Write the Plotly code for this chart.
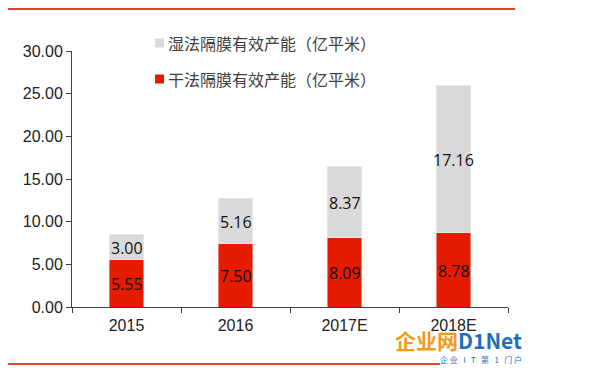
import plotly.graph_objects as go

categories = ["2015", "2016", "2017E", "2018E"]
dry_values = [5.55, 7.50, 8.09, 8.78]
wet_values = [3.00, 5.16, 8.37, 17.16]
dry_name = "干法隔膜有效产能（亿平米）"
wet_name = "湿法隔膜有效产能（亿平米）"
y_ticks = [0, 5, 10, 15, 20, 25, 30]

RED = "#E51B00"
GREY = "#D9D9D9"
FONT = "Liberation Sans, Arial, sans-serif"
LABEL_FONT = dict(color="#111111", size=16, family="Open Sans, sans-serif")
CJK = "Noto Sans CJK SC, sans-serif"

# the page places the figure 8px in from the top-left corner
OFF = 8
W, H = 600 - OFF, 368 - OFF
ML, MR, MT, MB = 72 - OFF, 92, 51 - OFF, 61
PW, PH = W - ML - MR, H - MT - MB


def px(x):
    return (x - OFF - ML) / PW


def py(y):
    return (H - MB - (y - OFF)) / PH


fig = go.Figure()
fig.add_trace(go.Bar(
    x=categories, y=dry_values, name=dry_name,
    marker=dict(color=RED, line=dict(color="#F08070", width=1)),
    width=0.31, showlegend=False,
))
fig.add_trace(go.Bar(
    x=categories, y=wet_values, name=wet_name,
    marker=dict(color=GREY, line=dict(color="#E6E6E6", width=1)),
    width=0.31, showlegend=False,
))

# data labels centred in each segment (x given as category index)
for i, (d, w) in enumerate(zip(dry_values, wet_values)):
    fig.add_annotation(x=i, y=d / 2, text=f"{d:.2f}", showarrow=False,
                       font=LABEL_FONT, yshift=-1)
    fig.add_annotation(x=i, y=d + w / 2, text=f"{w:.2f}", showarrow=False,
                       font=LABEL_FONT, yshift=-1)

fig.update_layout(
    barmode="stack",
    width=W, height=H,
    margin=dict(l=ML, r=MR, t=MT, b=MB, autoexpand=False),
    paper_bgcolor="white", plot_bgcolor="white",
    showlegend=False,
)
fig.update_yaxes(
    range=[0, 30], tickvals=y_ticks, ticktext=[f"{v:.2f}" for v in y_ticks],
    showgrid=False, zeroline=False, showline=True, linecolor="#404040", linewidth=1,
    ticks="outside", ticklen=5, tickcolor="#404040",
    tickfont=dict(size=16, color="#222222", family=FONT),
)
fig.update_xaxes(
    type="category", categoryorder="array", categoryarray=categories,
    range=[-0.5, len(categories) - 0.5],
    showgrid=False, showline=True, linecolor="#404040", linewidth=1,
    ticks="outside", ticklen=5, tickcolor="#404040", tickson="boundaries",
    ticklabelstandoff=4,
    tickfont=dict(size=16, color="#222222", family=FONT),
)

# manual legend (wet on top, dry below)
for (name, color, yc) in [(wet_name, GREY, 43), (dry_name, RED, 79)]:
    fig.add_shape(type="rect", xref="paper", yref="paper",
                  x0=px(155), x1=px(164), y0=py(yc - 4.5), y1=py(yc + 4.5),
                  fillcolor=color, line=dict(width=0))
    fig.add_annotation(xref="paper", yref="paper", x=px(166), y=py(yc),
                       xanchor="left", yanchor="middle", text=name, showarrow=False,
                       font=dict(size=16, color="#404040", family=CJK))

# decorative red rules at top and bottom
fig.add_shape(type="line", xref="paper", yref="paper", x0=px(OFF), x1=px(515),
              y0=py(OFF + 1), y1=py(OFF + 1), line=dict(color="#E8402E", width=2))
fig.add_shape(type="line", xref="paper", yref="paper", x0=px(OFF), x1=px(440),
              y0=py(364), y1=py(364), line=dict(color="#E8402E", width=2))

# watermark
fig.add_annotation(xref="paper", yref="paper", x=px(524), y=py(340), xanchor="right", yanchor="middle",
                   text="<b><span style='color:#F39A1E'>企业网</span><span style='color:#1F6FC0'>D1Net</span></b>",
                   showarrow=False, font=dict(size=21, family=CJK))
fig.add_annotation(xref="paper", yref="paper", x=px(524), y=py(359), xanchor="right", yanchor="middle",
                   text="企 业   I   T   第   1   门 户",
                   showarrow=False, font=dict(size=8, color="#1F6FC0", family=CJK))

fig.write_html("out.html")
